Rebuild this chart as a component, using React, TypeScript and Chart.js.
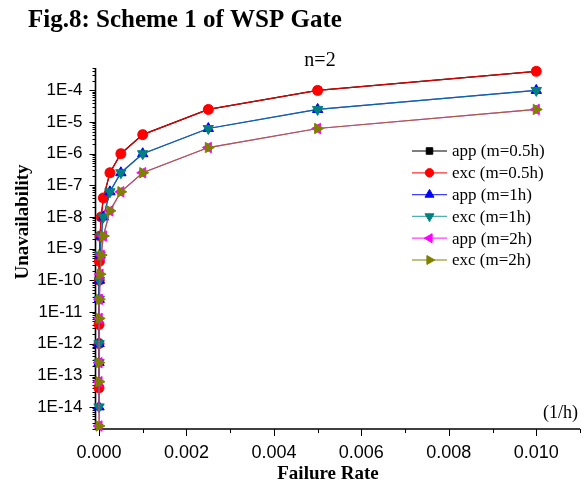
import React, { useEffect, useRef } from 'react';
import { Chart, registerables } from 'chart.js';

Chart.register(...registerables);

// ---------- data ----------
const failureRate = [0.01, 0.005, 0.0025, 0.001, 0.0005, 0.00025, 0.0001, 0.00005, 0.000025, 0.00001, 0.000005, 0.000001, 0.0000005, 0.0000001];
const appM05 = [4e-4, 1e-4, 2.5e-5, 4e-6, 1e-6, 2.5e-7, 4e-8, 1e-8, 2.5e-9, 4e-10, 1e-10, 4e-12, 1e-12, 4e-14];
const excM05 = [4e-4, 1e-4, 2.5e-5, 4e-6, 1e-6, 2.5e-7, 4e-8, 1e-8, 2.5e-9, 4e-10, 1e-10, 4e-12, 1e-12, 4e-14];
const appM1 = [1e-4, 2.5e-5, 6.25e-6, 1e-6, 2.5e-7, 6.25e-8, 1e-8, 2.5e-9, 6.25e-10, 1e-10, 2.5e-11, 1e-12, 2.5e-13, 1e-14];
const excM1 = [1e-4, 2.5e-5, 6.25e-6, 1e-6, 2.5e-7, 6.25e-8, 1e-8, 2.5e-9, 6.25e-10, 1e-10, 2.5e-11, 1e-12, 2.5e-13, 1e-14];
const appM2 = [2.5e-5, 6.25e-6, 1.5625e-6, 2.5e-7, 6.25e-8, 1.5625e-8, 2.5e-9, 6.25e-10, 1.5625e-10, 2.5e-11, 6.25e-12, 2.5e-13, 6.25e-14, 2.5e-15];
const excM2 = [2.5e-5, 6.25e-6, 1.5625e-6, 2.5e-7, 6.25e-8, 1.5625e-8, 2.5e-9, 6.25e-10, 1.5625e-10, 2.5e-11, 6.25e-12, 2.5e-13, 6.25e-14, 2.5e-15];

const seriesLabels = ['app (m=0.5h)', 'exc (m=0.5h)', 'app (m=1h)', 'exc (m=1h)', 'app (m=2h)', 'exc (m=2h)'];
const seriesValues = [appM05, excM05, appM1, excM1, appM2, excM2];

const yTickValues = [1e-14, 1e-13, 1e-12, 1e-11, 1e-10, 1e-9, 1e-8, 1e-7, 1e-6, 1e-5, 1e-4];
const xTickValues = [0, 0.002, 0.004, 0.006, 0.008, 0.01];

const chartTitle = 'Fig.8: Scheme 1 of WSP Gate';
const subTitle = 'n=2';
const unitText = '(1/h)';
const xTitle = 'Failure Rate';
const yTitle = 'Unavailability';

// ---------- styles ----------
const SERIF = "'Liberation Serif', 'Times New Roman', serif";
const SANS = "'Liberation Sans', Arial, sans-serif";

const styles = [
  { color: '#000000', line: '#000000', legendLine: '#000000', shape: 'rect', rot: 0, r: 5, lr: 4.6 },
  { color: '#ff0000', line: '#e00000', legendLine: '#ff3030', shape: 'circle', rot: 0, r: 5, lr: 4.2 },
  { color: '#0000ff', line: '#2020ff', legendLine: '#4040ff', shape: 'triangle', rot: 0, r: 6, lr: 5.2 },
  { color: '#008080', line: 'rgba(0,128,128,0.72)', legendLine: '#50b0b0', shape: 'triangle', rot: 180, r: 6, lr: 5.2 },
  { color: '#ff00ff', line: '#ff00ff', legendLine: '#ff40ff', shape: 'triangle', rot: 270, r: 6, lr: 5.2 },
  { color: '#808000', line: 'rgba(128,128,0,0.75)', legendLine: '#808000', shape: 'triangle', rot: 90, r: 6, lr: 5.2 },
];

function drawMarker(ctx: CanvasRenderingContext2D, shape: string, rotDeg: number, x: number, y: number, r: number, color: string) {
  ctx.save();
  ctx.fillStyle = color;
  ctx.strokeStyle = color;
  ctx.lineWidth = 1;
  ctx.beginPath();
  if (shape === 'circle') {
    ctx.arc(x, y, r, 0, Math.PI * 2);
  } else if (shape === 'rect') {
    const s = Math.SQRT1_2 * r;
    ctx.rect(x - s, y - s, 2 * s, 2 * s);
  } else {
    let a = (rotDeg * Math.PI) / 180;
    ctx.moveTo(x + Math.sin(a) * r, y - Math.cos(a) * r);
    a += (2 * Math.PI) / 3;
    ctx.lineTo(x + Math.sin(a) * r, y - Math.cos(a) * r);
    a += (2 * Math.PI) / 3;
    ctx.lineTo(x + Math.sin(a) * r, y - Math.cos(a) * r);
    ctx.closePath();
  }
  ctx.fill();
  ctx.stroke();
  ctx.restore();
}

const decor = {
  id: 'decor',
  beforeDatasetsDraw(chart: any) {
    const { ctx, chartArea: ca, scales } = chart;
    const x = scales.x;
    const y = scales.y;
    ctx.save();
    ctx.strokeStyle = '#000';
    ctx.lineWidth = 1.6;
    ctx.beginPath();
    ctx.moveTo(ca.left, ca.top);
    ctx.lineTo(ca.left, ca.bottom);
    ctx.lineTo(ca.right, ca.bottom);
    ctx.stroke();
    ctx.lineWidth = 1;
    ctx.beginPath();
    for (let d = -16; d <= -3; d++) {
      for (let k = 1; k <= 9; k++) {
        const v = k * Math.pow(10, d);
        if (v < y.min || v > y.max) continue;
        const py = Math.round(y.getPixelForValue(v)) + 0.5;
        const len = k === 1 ? 6 : 3;
        ctx.moveTo(ca.left - len, py);
        ctx.lineTo(ca.left, py);
      }
    }
    for (let i = 0; i <= 11; i++) {
      const v = i * 0.001;
      if (v > x.max + 1e-9) continue;
      const px = Math.round(x.getPixelForValue(v)) + 0.5;
      const len = i % 2 === 0 ? 7 : 4;
      ctx.moveTo(px, ca.bottom);
      ctx.lineTo(px, ca.bottom + len);
    }
    ctx.stroke();
    ctx.restore();
  },
  afterDraw(chart: any) {
    const { ctx } = chart;
    ctx.save();
    ctx.fillStyle = '#000';
    // main title
    ctx.font = `bold 25px ${SERIF}`;
    ctx.textAlign = 'left';
    ctx.textBaseline = 'alphabetic';
    ctx.fillText(chartTitle, 28, 27);
    // subtitle
    ctx.font = `20px ${SERIF}`;
    ctx.textAlign = 'center';
    ctx.textBaseline = 'middle';
    ctx.fillText(subTitle, 320, 61);
    // unit
    ctx.font = `18px ${SERIF}`;
    ctx.textAlign = 'right';
    ctx.fillText(unitText, 578, 413);
    // x title
    ctx.font = `bold 19px ${SERIF}`;
    ctx.textAlign = 'center';
    ctx.fillText(xTitle, 328, 474);
    // y title
    ctx.save();
    ctx.translate(23, 222);
    ctx.rotate(-Math.PI / 2);
    ctx.fillText(yTitle, 0, 0);
    ctx.restore();
    // legend
    const lx0 = 412, lx1 = 447, tx = 452, ly0 = 151, step = 21.8;
    ctx.font = `17px ${SERIF}`;
    ctx.textAlign = 'left';
    ctx.textBaseline = 'middle';
    seriesLabels.forEach((lab, i) => {
      const s = styles[i];
      const yy = ly0 + i * step;
      ctx.strokeStyle = s.legendLine;
      ctx.lineWidth = 1.2;
      ctx.beginPath();
      ctx.moveTo(lx0, yy);
      ctx.lineTo(lx1, yy);
      ctx.stroke();
      drawMarker(ctx, s.shape, s.rot, (lx0 + lx1) / 2, yy, s.lr, s.color);
      ctx.fillStyle = '#000';
      ctx.fillText(lab, tx, yy + 1);
    });
    ctx.restore();
  },
};

export default function App() {
  const canvasRef = useRef<HTMLCanvasElement | null>(null);

  useEffect(() => {
    document.body.style.margin = '0';
    const canvas = canvasRef.current;
    if (!canvas) return;
    const datasets = seriesLabels.map((label, i) => {
      const s = styles[i];
      return {
        label,
        data: failureRate.map((fx, j) => ({ x: fx, y: seriesValues[i][j] })),
        borderColor: s.line,
        backgroundColor: s.color,
        borderWidth: 1.2,
        pointBackgroundColor: s.color,
        pointBorderColor: s.color,
        pointBorderWidth: 1,
        pointStyle: s.shape,
        pointRotation: s.rot,
        pointRadius: s.r,
        tension: 0,
        clip: false as any,
        order: 5 - i,
      };
    });
    const chart = new Chart(canvas, {
      type: 'line',
      data: { datasets } as any,
      plugins: [decor],
      options: {
        responsive: false,
        animation: false,
        devicePixelRatio: 1,
        layout: { padding: { top: 68, right: 3, left: 0, bottom: 0 } },
        plugins: {
          legend: { display: false },
          title: { display: false },
          tooltip: { enabled: false },
        },
        scales: {
          x: {
            type: 'linear',
            min: -0.00008,
            max: 0.011,
            grid: { display: false, drawTicks: false },
            border: { display: false },
            ticks: {
              color: '#000',
              padding: 13,
              font: { family: SANS, size: 18 },
              maxRotation: 0,
              autoSkip: false,
              callback: (v: any) => Number(v).toFixed(3),
            },
            afterBuildTicks: (s: any) => {
              s.ticks = xTickValues.map((v) => ({ value: v }));
            },
            afterFit: (s: any) => {
              s.height = 57;
            },
          },
          y: {
            type: 'logarithmic',
            min: 2.0e-15,
            max: 5.1e-4,
            grid: { display: false, drawTicks: false },
            border: { display: false },
            ticks: {
              color: '#000',
              padding: 13,
              font: { family: SANS, size: 17 },
              autoSkip: false,
              callback: (v: any) => '1E' + Math.round(Math.log10(Number(v))),
            },
            afterBuildTicks: (s: any) => {
              s.ticks = yTickValues.map((v) => ({ value: v }));
            },
            afterFit: (s: any) => {
              s.width = 95.5;
            },
          },
        },
      } as any,
    });
    return () => chart.destroy();
  }, []);

  return (
    <div style={{ width: 587, height: 486, position: 'relative', background: '#fff' }}>
      <canvas ref={canvasRef} width={587} height={486} style={{ display: 'block', width: 587, height: 486 }} />
    </div>
  );
}
